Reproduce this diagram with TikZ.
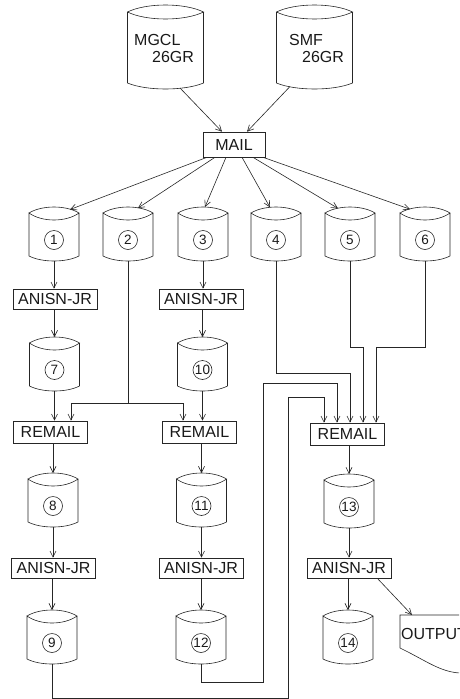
\documentclass[tikz,border=0pt]{standalone}
\usepackage{fontspec}
\setmainfont{Liberation Sans}
\usetikzlibrary{arrows.meta,calc}

\tikzset{
  ink/.style={draw=black!85, line width=0.6pt},
  flow/.style={ink, -{Straight Barb[length=6pt,width=6pt]}},
  txt/.style={font=\fontsize{16}{18}\selectfont, text=black!90, inner sep=0pt},
  numcirc/.style={circle, ink, minimum size=19pt, inner sep=0pt,
    font=\fontsize{13.5}{13.5}\selectfont, text=black!90},
  procbox/.style={ink, rectangle, inner sep=0pt, minimum width=84pt,
    minimum height=20pt, font=\fontsize{16}{18}\selectfont, text=black!90},
  mailbox/.style={procbox, minimum width=74pt, minimum height=22pt},
  % small disk file: 50 wide, 54 high (peak to bottom centre)
  pics/disk/.style={code={
    \path[ink] (-25,-21) .. controls (-12,-29) and (12,-29) .. (25,-21)
      .. controls (12,-11.67) and (-12,-11.67) .. (-25,-21) -- (-25,22)
      .. controls (-12,28.67) and (12,28.67) .. (25,22) -- (25,-21);
    \node[numcirc] (-num) at (0,6) {#1};
    \coordinate (-top) at (0,-27);
    \coordinate (-bot) at (0,27);
  }},
  % large disk file: 76 wide, 84 high
  pics/bigdisk/.style={code={
    \path[ink] (-38,-35) .. controls (-19,-44.33) and (19,-44.33) .. (38,-35)
      .. controls (19,-25.67) and (-19,-25.67) .. (-38,-35) -- (-38,36)
      .. controls (-19,44) and (19,44) .. (38,36) -- (38,-35);
    \coordinate (-top) at (0,-42);
    \coordinate (-bot) at (0,42);
  }}
}

\begin{document}
\begin{tikzpicture}[x=1pt,y=-1pt]
\useasboundingbox (0,0) rectangle (459,699);
\clip (0,0) rectangle (459,699);

% input files
\pic (mg) at (165.5,47) {bigdisk};
\pic (sm) at (314.5,47) {bigdisk};
\node[txt, anchor=base west] (mgA) at (134,45) {MGCL};
\node[txt, anchor=base west] (mgB) at (152,62) {26GR};
\node[txt, anchor=base west] (smA) at (289,45) {SMF};
\node[txt, anchor=base west] (smB) at (302,62) {26GR};

\node[procbox, minimum width=62pt, minimum height=25pt] (mail) at (234,144.5) {MAIL};

% first level files
\pic (d1) at (54,234) {disk=1};
\pic (d2) at (128,234) {disk=2};
\pic (d3) at (203,234) {disk=3};
\pic (d4) at (276,234) {disk=4};
\pic (d5) at (350,234) {disk=5};
\pic (d6) at (425,234) {disk=6};

\draw[flow] ($(mg-bot)+(14.5,-1)$) -- ($(mail.north)+(-12,0)$);
\draw[flow] ($(sm-bot)+(-24.5,-2.5)$) -- ($(mail.north)+(13,0)$);

\draw[flow] ($(mail.south)+(-27,0)$) -- ($(d1-top)+(16,2.5)$);
\draw[flow] ($(mail.south)+(-19,0)$) -- ($(d2-top)+(10,1)$);
\draw[flow] ($(mail.south)+(-8,0)$) -- ($(d3-top)+(2,0)$);
\draw[flow] ($(mail.south)+(8,0)$) -- ($(d4-top)+(-6,0.4)$);
\draw[flow] ($(mail.south)+(19,0)$) -- ($(d5-top)+(-12,1.4)$);
\draw[flow] ($(mail.south)+(29,0)$) -- ($(d6-top)+(-15,2.2)$);

% first transport runs
\node[procbox] (a1) at (55,299) {ANISN-JR};
\node[procbox] (a2) at (201,299) {ANISN-JR};
\draw[flow] (d1-bot) -- (d1-bot |- a1.north);
\draw[flow] (d3-bot) -- (d3-bot |- a2.north);

\pic (d7) at (54.5,364) {disk=7};
\pic (d10) at (202.5,364) {disk=10};
\draw[flow] (d7-top |- a1.south) -- (d7-top);
\draw[flow] (d10-top |- a2.south) -- (d10-top);

% remailing
\node[mailbox] (r1) at (50.5,432) {REMAIL};
\node[mailbox] (r2) at (199.5,432) {REMAIL};
\node[mailbox] (r3) at (347.5,434) {REMAIL};

\coordinate (r1in) at ($(r1.north)+(20.5,0)$);
\coordinate (r2in) at ($(r2.north)+(-16.5,0)$);
\coordinate (r3a) at ($(r3.north)+(-23.5,0)$);
\coordinate (r3b) at ($(r3.north)+(-10.5,0)$);
\coordinate (r3c) at ($(r3.north)+(2.5,0)$);
\coordinate (r3d) at ($(r3.north)+(15.5,0)$);
\coordinate (r3e) at ($(r3.north)+(28.5,0)$);

\draw[flow] (d7-bot) -- (d7-bot |- r1.north);
\draw[flow] (d10-bot) -- (d10-bot |- r2.north);
\coordinate (j2) at ($(d2-bot)+(0,142)$);
\draw[ink] (d2-bot) -- (j2);
\draw[flow] (j2) -| (r1in);
\draw[flow] (j2) -| (r2in);

\draw[flow] (d4-bot) -- ++(0,112) -| (r3c);
\draw[flow] (d5-bot) -- ++(0,86) -| (r3d);
\draw[flow] (d6-bot) -- ++(0,86) -| (r3e);

% second level files
\pic (d8) at (53,500) {disk=8};
\pic (d11) at (201.5,500) {disk=11};
\pic (d13) at (349,501) {disk=13};
\draw[flow] (d8-top |- r1.south) -- (d8-top);
\draw[flow] (d11-top |- r2.south) -- (d11-top);
\draw[flow] (d13-top |- r3.south) -- (d13-top);

% second transport runs
\node[procbox] (a3) at (53.5,568) {ANISN-JR};
\node[procbox] (a4) at (201,568) {ANISN-JR};
\node[procbox] (a5) at (349,568) {ANISN-JR};
\draw[flow] (d8-bot) -- (d8-bot |- a3.north);
\draw[flow] (d11-bot) -- (d11-bot |- a4.north);
\draw[flow] (d13-bot) -- (d13-bot |- a5.north);

\pic (d9) at (52,637) {disk=9};
\pic (d12) at (201,637) {disk=12};
\pic (d14) at (348,637) {disk=14};
\draw[flow] (d9-top |- a3.south) -- (d9-top);
\draw[flow] (d12-top |- a4.south) -- (d12-top);
\draw[flow] (d14-top |- a5.south) -- (d14-top);

% feedback of files 9 and 12
\coordinate (bend9) at (288,397);
\coordinate (bend12) at (263,383);
\draw[flow] (d9-bot) -- ++(0,34) -| (bend9) -| (r3a);
\draw[flow] (d12-bot) -- ++(0,18) -| (bend12) -| (r3b);

% printed output, running off the right edge
\draw[ink] (400,615) -- (490,615) -- (490,662)
  .. controls (480,668) and (470,673) .. (460,673)
  .. controls (440,672) and (425,660) .. (400,648) -- cycle;
\node[txt, anchor=base west] (outtxt) at (401,639) {OUTPUT};
\coordinate (outin) at (412,615);
\draw[flow] ($(a5.south east)+(-14,0)$) -- (outin);
\end{tikzpicture}
\end{document}
